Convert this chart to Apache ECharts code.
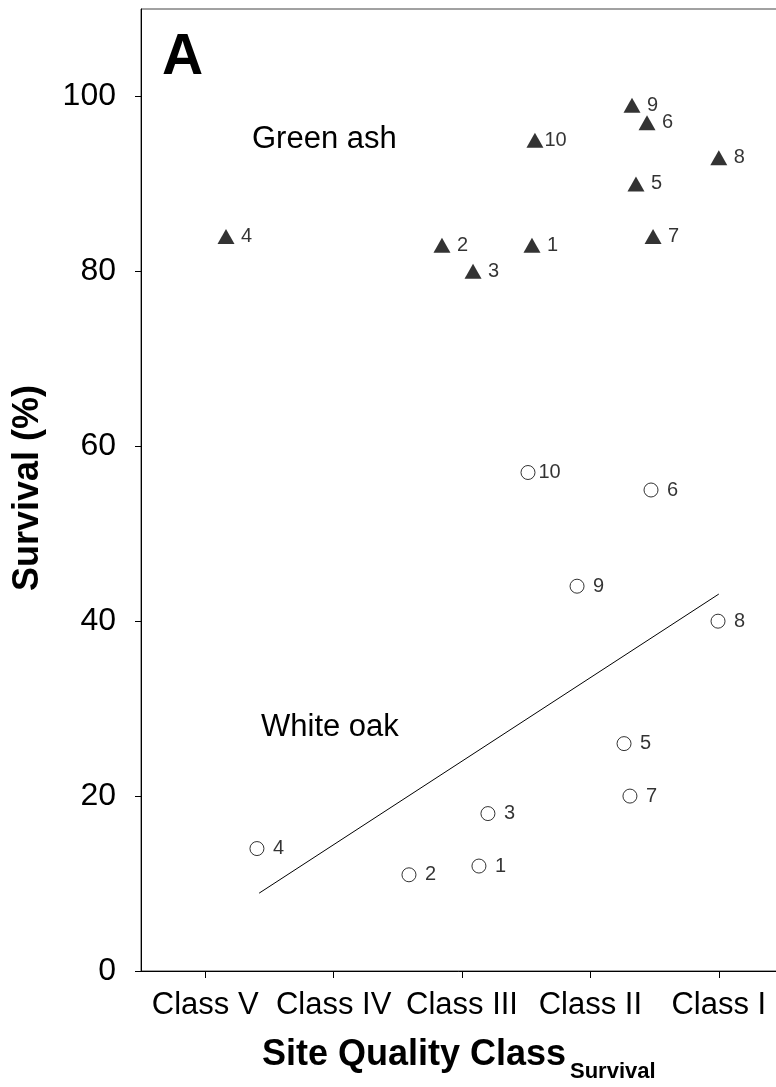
<!DOCTYPE html>
<html>
<head>
<meta charset="utf-8">
<script src="https://cdn.jsdelivr.net/npm/echarts@6/dist/echarts.min.js"></script>
<style>
html,body{margin:0;padding:0;background:#fff;}
#c{width:776px;height:1087px;}
</style>
</head>
<body>
<div id="c"></div>
<script>
// ---- data ----
var classLabels = ['Class V', 'Class IV', 'Class III', 'Class II', 'Class I'];
var classPositions = [1, 2, 3, 4, 5];
var yTicks = [0, 20, 40, 60, 80, 100];

var siteLabels = ['1', '2', '3', '4', '5', '6', '7', '8', '9', '10'];

// Green ash (filled triangles)
var ashX = [3.545, 2.844, 3.086, 1.162, 4.355, 4.441, 4.488, 5.0, 4.324, 3.568];
var ashY = [83, 83, 80, 84, 90, 97, 84, 93, 99, 95];

// White oak (open circles)
var oakX = [3.132, 2.587, 3.202, 1.403, 4.262, 4.472, 4.308, 4.994, 3.896, 3.514];
var oakY = [12, 11, 18, 14, 26, 55, 20, 40, 44, 57];

// White oak regression line
var trendX = [1.42, 5.0];
var trendY = [8.9, 43.1];

// ---- build ----
var FONT = "'Liberation Sans', Arial, Helvetica, sans-serif";

function pts(xs, ys, labels) {
  return xs.map(function (x, i) {
    return { value: [x, ys[i]], name: labels ? labels[i] : '' };
  });
}
function labelFmt(p) {
  return p.name.length === 1 ? ' ' + p.name : p.name;
}

var chart = echarts.init(document.getElementById('c'), null, { renderer: 'canvas' });

chart.setOption({
  backgroundColor: '#ffffff',
  animation: false,
  grid: {
    left: 141, top: 9, width: 642, height: 962,
    containLabel: false, outerBoundsMode: 'none',
    show: true, borderColor: '#444444', borderWidth: 1, backgroundColor: 'transparent'
  },
  xAxis: {
    type: 'value', min: 0.5, max: 5.5,
    axisLine: { show: true, onZero: false, lineStyle: { color: '#000', width: 1 } },
    axisTick: { show: true, inside: false, length: 7, customValues: classPositions, lineStyle: { color: '#000' } },
    axisLabel: {
      show: true, customValues: classPositions, margin: 19,
      fontFamily: FONT, fontSize: 31, color: '#000', hideOverlap: false,
      formatter: function (v) { return classLabels[Math.round(v) - 1]; }
    },
    splitLine: { show: false }
  },
  yAxis: {
    type: 'value', min: 0, max: 110,
    axisLine: { show: true, onZero: false, lineStyle: { color: '#000', width: 1 } },
    axisTick: { show: true, inside: false, length: 6, customValues: yTicks, lineStyle: { color: '#000' } },
    axisLabel: {
      show: true, customValues: yTicks, margin: 25,
      fontFamily: FONT, fontSize: 32, color: '#000'
    },
    splitLine: { show: false }
  },
  series: [
    {
      name: 'White oak trend', type: 'line',
      data: trendX.map(function (x, i) { return [x, trendY[i]]; }),
      showSymbol: false, symbol: 'none',
      lineStyle: { color: '#000', width: 1 },
      silent: true, z: 1
    },
    {
      name: 'Green ash', type: 'scatter',
      data: pts(ashX, ashY, siteLabels),
      symbol: 'triangle', symbolSize: [17, 15],
      itemStyle: { color: '#000', borderWidth: 0 },
      label: {
        show: true, position: 'right', distance: 1, formatter: labelFmt,
        fontFamily: FONT, fontSize: 20, color: '#000'
      },
      z: 3
    },
    {
      name: 'White oak', type: 'scatter',
      data: pts(oakX, oakY, siteLabels),
      symbol: 'circle', symbolSize: 14,
      itemStyle: { color: '#fff', borderColor: '#000', borderWidth: 1 },
      label: {
        show: true, position: 'right', distance: 3, formatter: labelFmt,
        fontFamily: FONT, fontSize: 20, color: '#000'
      },
      z: 3
    }
  ],
  graphic: [
    { type: 'text', left: 162, top: 30, style: { text: 'A', fontFamily: FONT, fontSize: 57, fontWeight: 'bold', fill: '#000' } },
    { type: 'text', x: 252, y: 139, style: { text: 'Green ash', fontFamily: FONT, fontSize: 31, fill: '#000', textAlign: 'left', textVerticalAlign: 'middle' } },
    { type: 'text', x: 261, y: 727, style: { text: 'White oak', fontFamily: FONT, fontSize: 31, fill: '#000', textAlign: 'left', textVerticalAlign: 'middle' } },
    { type: 'text', x: 28, y: 488, rotation: Math.PI / 2, style: { text: 'Survival (%)', fontFamily: FONT, fontSize: 36, fontWeight: 'bold', fill: '#000', textAlign: 'center', textVerticalAlign: 'middle' } },
    { type: 'text', x: 262, y: 1055, style: { text: 'Site Quality Class', fontFamily: FONT, fontSize: 36, fontWeight: 'bold', fill: '#000', textAlign: 'left', textVerticalAlign: 'middle' } },
    { type: 'text', x: 570, y: 1072, style: { text: 'Survival', fontFamily: FONT, fontSize: 22, fontWeight: 'bold', fill: '#000', textAlign: 'left', textVerticalAlign: 'middle' } }
  ]
});
</script>
</body>
</html>
